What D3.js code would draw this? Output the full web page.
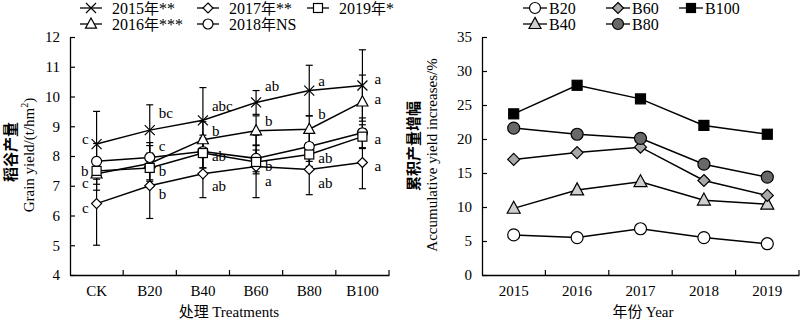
<!DOCTYPE html>
<html>
<head>
<meta charset="utf-8">
<script src="https://cdn.jsdelivr.net/npm/d3@7"></script>
<style>
  body { margin: 0; background: #fff; }
  svg { display: block; }
  text { font-family: "Liberation Serif", "Times New Roman", serif; fill: #000; }
  .cjk { font-family: "Noto Sans CJK SC", sans-serif; }
</style>
</head>
<body>
<script>
// grain yield by treatment, one series per year
const treatments = ['CK', 'B20', 'B40', 'B60', 'B80', 'B100'];
const yieldTicks = [4, 5, 6, 7, 8, 9, 10, 11, 12];

const y2015 = [8.40, 8.87, 9.20, 9.80, 10.20, 10.37];
const y2016 = [7.40, 7.75, 8.55, 8.85, 8.90, 9.82];
const y2017 = [6.40, 7.00, 7.40, 7.65, 7.55, 7.78];
const y2018 = [7.82, 7.95, 8.15, 7.92, 8.32, 8.78];
const y2019 = [7.50, 7.60, 8.10, 7.80, 8.05, 8.65];

const e2015 = [1.10, 0.85, 1.10, 0.40, 0.85, 1.20];
const e2016 = [0.55, 0.60, 0.60, 0.50, 0.45, 0.90];
const e2017 = [1.40, 1.10, 0.80, 1.05, 0.85, 0.88];
const e2018 = [0.60, 0.50, 0.55, 0.45, 0.50, 0.50];
const e2019 = [0.45, 0.40, 0.50, 0.40, 0.40, 0.40];

const sig2015 = ['c', 'bc', 'abc', 'ab', 'a', 'a'];
const sig2016 = ['c', 'c', 'b', 'b', 'b', 'a'];
const sig2017 = ['c', 'b', 'ab', 'a', 'ab', 'a'];
const sig2019 = ['b', 'b', 'ab', 'b', 'ab', 'a'];

// cumulative yield increase by year, one series per treatment
const years = ['2015', '2016', '2017', '2018', '2019'];
const incTicks = [0, 5, 10, 15, 20, 25, 30, 35];
const inc20 = [5.9, 5.5, 6.8, 5.5, 4.6];
const inc40 = [9.8, 12.5, 13.7, 11.0, 10.4];
const inc60 = [17.0, 18.0, 18.8, 13.9, 11.7];
const inc80 = [21.6, 20.7, 20.1, 16.3, 14.4];
const inc100 = [23.7, 27.9, 25.9, 22.0, 20.7];

const W = 800, H = 321;
const svg = d3.select('body').append('svg').attr('width', W).attr('height', H);

function marker(g, shape, x, y, s, fill) {
  let m;
  if (shape === 'circle') {
    m = g.append('circle').attr('cx', x).attr('cy', y).attr('r', s);
  } else if (shape === 'square') {
    m = g.append('rect').attr('x', x - s).attr('y', y - s).attr('width', 2 * s).attr('height', 2 * s);
  } else if (shape === 'diamond') {
    m = g.append('path').attr('d', `M${x},${y - s}L${x + s},${y}L${x},${y + s}L${x - s},${y}Z`);
  } else if (shape === 'triangle') {
    m = g.append('path').attr('d', `M${x},${y - s * 1.1}L${x + s},${y + s * 0.75}L${x - s},${y + s * 0.75}Z`);
  } else {
    m = g.append('path').attr('d', `M${x - s},${y - s}L${x + s},${y + s}M${x - s},${y + s}L${x + s},${y - s}`);
  }
  m.attr('fill', shape === 'x' ? 'none' : fill).attr('stroke', '#000').attr('stroke-width', 1.2);
}

// ---------- left panel ----------
const L = { x0: 70, x1: 389, y0: 275, y1: 37 };
const xL = d3.scaleBand().domain(treatments).range([L.x0, L.x1]);
const yL = d3.scaleLinear().domain([4, 12]).range([L.y0, L.y1]);
const cx = (i) => xL(treatments[i]) + xL.bandwidth() / 2;

const left = svg.append('g');

left.append('g')
  .attr('transform', `translate(0,${L.y0})`)
  .call(d3.axisBottom(xL).tickSizeInner(-5).tickSizeOuter(0).tickPadding(10))
  .call(g => g.selectAll('.tick line').attr('x1', xL.bandwidth() / 2).attr('x2', xL.bandwidth() / 2));
left.append('g')
  .attr('transform', `translate(${L.x0},0)`)
  .call(d3.axisLeft(yL).tickValues(yieldTicks).tickSizeInner(-5).tickSizeOuter(0).tickPadding(10));

const yieldSeries = [
  { name: '2015年**', v: y2015, e: e2015, shape: 'x', sig: sig2015 },
  { name: '2016年***', v: y2016, e: e2016, shape: 'triangle', sig: sig2016 },
  { name: '2017年**', v: y2017, e: e2017, shape: 'diamond', sig: sig2017 },
  { name: '2018年NS', v: y2018, e: e2018, shape: 'circle', sig: null },
  { name: '2019年*', v: y2019, e: e2019, shape: 'square', sig: sig2019 }
];

// error bars
yieldSeries.forEach(s => {
  s.v.forEach((v, i) => {
    const x = cx(i);
    const top = yL(v + s.e[i]), bot = yL(v - s.e[i]);
    left.append('line').attr('x1', x).attr('x2', x).attr('y1', top).attr('y2', bot)
      .attr('stroke', '#000').attr('stroke-width', 1.2);
    [top, bot].forEach(yy => left.append('line').attr('x1', x - 3.5).attr('x2', x + 3.5)
      .attr('y1', yy).attr('y2', yy).attr('stroke', '#000').attr('stroke-width', 1.2));
  });
});

const lineL = d3.line().x((d, i) => cx(i)).y(d => yL(d));
yieldSeries.forEach(s => {
  left.append('path').attr('d', lineL(s.v)).attr('fill', 'none').attr('stroke', '#000').attr('stroke-width', 1.5);
});
const sizeL = { x: 5, triangle: 5.5, diamond: 5, circle: 5, square: 4.5 };
yieldSeries.forEach(s => {
  s.v.forEach((v, i) => marker(left, s.shape, cx(i), yL(v), sizeL[s.shape], '#fff'));
});

// significance letters
const sigDy = {
  '2015年**': [-5, -17, -15, -17, -10, -7],
  '2016年***': [9, -18, -9, -10, -15, -3],
  '2017年**': [4, 8, 12, 14, 13, 3],
  '2019年*': [0, 3, 3, 4, 3, 2]
};
yieldSeries.filter(s => s.sig).forEach(s => {
  s.sig.forEach((t, i) => {
    const right = i > 0;
    left.append('text')
      .attr('x', right ? cx(i) + (i === 5 ? 12 : 9) : cx(i) - 8)
      .attr('y', yL(s.v[i]) + sigDy[s.name][i])
      .attr('dy', '0.35em')
      .attr('text-anchor', right ? 'start' : 'end')
      .attr('font-size', 15)
      .text(t);
  });
});

// legend
const legL = [
  { s: yieldSeries[0], x: 80, y: 8 }, { s: yieldSeries[2], x: 197, y: 8 }, { s: yieldSeries[4], x: 307, y: 8 },
  { s: yieldSeries[1], x: 80, y: 24 }, { s: yieldSeries[3], x: 197, y: 24 }
];
legL.forEach(d => {
  left.append('line').attr('x1', d.x).attr('x2', d.x + 22).attr('y1', d.y).attr('y2', d.y)
    .attr('stroke', '#000').attr('stroke-width', 1.3);
  marker(left, d.s.shape, d.x + 11, d.y, sizeL[d.s.shape], '#fff');
  const t = left.append('text').attr('x', d.x + 32).attr('y', d.y).attr('dy', '0.35em').attr('font-size', 16);
  const m = d.s.name.match(/^(\d+)(年)(.*)$/);
  t.append('tspan').text(m[1]);
  t.append('tspan').attr('class', 'cjk').attr('font-size', 15).text(m[2]);
  t.append('tspan').text(m[3]);
});

left.append('text').attr('x', 229).attr('y', 317).attr('text-anchor', 'middle').attr('font-size', 15)
  .call(t => { t.append('tspan').attr('class', 'cjk').text('处理 '); t.append('tspan').text('Treatments'); });

left.append('text').attr('class', 'cjk').attr('transform', 'translate(16,152)rotate(-90)')
  .attr('text-anchor', 'middle').attr('font-size', 15).attr('font-weight', 'bold').text('稻谷产量');
left.append('text').attr('transform', 'translate(34,155)rotate(-90)')
  .attr('text-anchor', 'middle').attr('font-size', 15)
  .call(t => {
    t.append('tspan').text('Grain yield/(t/hm');
    t.append('tspan').attr('font-size', 10).attr('dy', -6).text('2');
    t.append('tspan').attr('dy', 6).text(')');
  });

// ---------- right panel ----------
const R = { x0: 482, x1: 799, y0: 275, y1: 37 };
const xR = d3.scaleBand().domain(years).range([R.x0, R.x1]);
const yR = d3.scaleLinear().domain([0, 35]).range([R.y0, R.y1]);
const rx = (i) => xR(years[i]) + xR.bandwidth() / 2;

const right = svg.append('g');
right.append('g')
  .attr('transform', `translate(0,${R.y0})`)
  .call(d3.axisBottom(xR).tickSizeInner(-5).tickSizeOuter(0).tickPadding(10))
  .call(g => g.selectAll('.tick line').attr('x1', xR.bandwidth() / 2).attr('x2', xR.bandwidth() / 2));
right.append('g')
  .attr('transform', `translate(${R.x0},0)`)
  .call(d3.axisLeft(yR).tickValues(incTicks).tickSizeInner(-5).tickSizeOuter(0).tickPadding(10));

const incSeries = [
  { name: 'B20', v: inc20, shape: 'circle', fill: '#fff', size: 6 },
  { name: 'B40', v: inc40, shape: 'triangle', fill: '#cfcfcf', size: 6.5 },
  { name: 'B60', v: inc60, shape: 'diamond', fill: '#a8a8a8', size: 6 },
  { name: 'B80', v: inc80, shape: 'circle', fill: '#686868', size: 6 },
  { name: 'B100', v: inc100, shape: 'square', fill: '#000', size: 5 }
];
const lineR = d3.line().x((d, i) => rx(i)).y(d => yR(d));
incSeries.forEach(s => {
  right.append('path').attr('d', lineR(s.v)).attr('fill', 'none').attr('stroke', '#000').attr('stroke-width', 1.5);
});
incSeries.forEach(s => {
  s.v.forEach((v, i) => marker(right, s.shape, rx(i), yR(v), s.size, s.fill));
});

const legR = [
  { s: incSeries[0], x: 523, y: 8 }, { s: incSeries[2], x: 606, y: 8 }, { s: incSeries[4], x: 679, y: 8 },
  { s: incSeries[1], x: 523, y: 24 }, { s: incSeries[3], x: 606, y: 24 }
];
legR.forEach(d => {
  right.append('line').attr('x1', d.x).attr('x2', d.x + 24).attr('y1', d.y).attr('y2', d.y)
    .attr('stroke', '#000').attr('stroke-width', 1.3);
  marker(right, d.s.shape, d.x + 12, d.y, d.s.size - 0.5, d.s.fill);
  right.append('text').attr('x', d.x + 26).attr('y', d.y).attr('dy', '0.35em').attr('font-size', 16).text(d.s.name);
});

right.append('text').attr('x', 643).attr('y', 317).attr('text-anchor', 'middle').attr('font-size', 15)
  .call(t => { t.append('tspan').attr('class', 'cjk').text('年份 '); t.append('tspan').text('Year'); });

right.append('text').attr('class', 'cjk').attr('transform', 'translate(419,146)rotate(-90)')
  .attr('text-anchor', 'middle').attr('font-size', 15).attr('font-weight', 'bold').text('累积产量增幅');
right.append('text').attr('transform', 'translate(437,155)rotate(-90)')
  .attr('text-anchor', 'middle').attr('font-size', 15).text('Accumulative yield increases/%');

svg.selectAll('.domain').attr('stroke', '#000').attr('stroke-width', 1.3);
svg.selectAll('.tick line').attr('stroke', '#000').attr('stroke-width', 1.2);
svg.selectAll('.tick text').attr('font-size', 15).attr('font-family', '"Liberation Serif", serif').attr('fill', '#000');
</script>
</body>
</html>
